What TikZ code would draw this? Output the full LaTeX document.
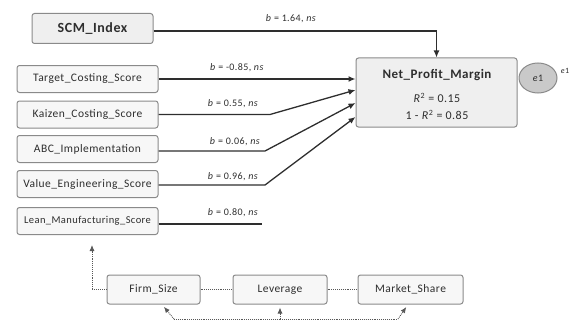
\documentclass[tikz,border=0pt]{standalone}
\usepackage{fontspec}
\setmainfont{Carlito}[LetterSpace=4]
\usetikzlibrary{arrows.meta,shapes.geometric,calc}
\definecolor{boxline}{HTML}{8A8A8A}
\definecolor{boxfill}{HTML}{F7F7F7}
\definecolor{keyfill}{HTML}{EFEFEF}
\definecolor{ink}{HTML}{2E2E2E}
\definecolor{errfill}{HTML}{C9C9C9}
\tikzset{
  varbox/.style={draw=boxline, line width=1pt, fill=boxfill, rounded corners=2.5pt,
    minimum width=141pt, minimum height=27pt, inner sep=0pt, font=\fontsize{11.5}{13}\selectfont, text=ink},
  ctrlbox/.style={varbox, minimum height=29pt},
  path/.style={draw=ink, line width=1.3pt},
  patharrow/.style={path, -{Latex[length=7pt,width=6pt]}},
  dotline/.style={draw=ink!80, line width=0.9pt, densely dotted},
  dotarrow/.style={dotline, -{Latex[length=6pt,width=5pt]}, shorten >=3pt},
  coef/.style={font=\fontsize{10}{12}\selectfont, text=ink, inner sep=1pt}
}
\begin{document}
\begin{tikzpicture}[x=1pt,y=-1pt]
\useasboundingbox (0,0) rectangle (575,321);

% predictors
\node[varbox, fill=keyfill, minimum width=121pt, minimum height=30pt,
      font=\fontsize{14}{16}\selectfont\bfseries] (scm) at (92.5,28.5) {SCM\_Index};
\node[varbox] (tgt) at (87.5,79)  {Target\_Costing\_Score};
\node[varbox] (kai) at (87.5,114.5) {Kaizen\_Costing\_Score};
\node[varbox] (abc) at (87.5,149) {ABC\_Implementation};
\node[varbox] (val) at (87.5,184) {Value\_Engineering\_Score};
\node[varbox, font=\fontsize{10.5}{12}\selectfont] (lean) at (87.5,221) {Lean\_Manufacturing\_Score};

% outcome box with its statistics, and the error term
\node[varbox, fill=keyfill, minimum width=161pt, minimum height=69pt] (npm) at (436.5,92.5) {};
\node[font=\fontsize{13}{15}\selectfont\bfseries, text=ink] (npmtitle) at (437,75) {Net\_Profit\_Margin};
\node[font=\fontsize{12}{14}\selectfont, text=ink] (npmr2) at (437,98) {\textit{R}\textsuperscript{2} = 0.15};
\node[font=\fontsize{12}{14}\selectfont, text=ink] (npmu2) at (437,115) {1 - \textit{R}\textsuperscript{2} = 0.85};
\node[ellipse, draw=boxline, line width=1pt, fill=errfill, minimum width=38pt,
      minimum height=30pt, inner sep=0pt, font=\fontsize{10}{11}\selectfont, text=ink] (e1) at (538,78) {\textit{e}1};
\node[font=\fontsize{8}{9}\selectfont, text=ink, inner sep=0pt] (e1lab) at (565,71) {\textit{e}1};

% control variables
\node[ctrlbox, minimum width=93pt]  (fs)  at (153.5,289.5) {Firm\_Size};
\node[ctrlbox, minimum width=94pt]  (lev) at (280,289.5)  {Leverage};
\node[ctrlbox, minimum width=105pt] (ms)  at (410.5,289.5) {Market\_Share};

% paths into the outcome
\draw[patharrow] (scm.east |- 0,31) -| (npm.north);
\node[coef] (lscm) at (291,19) {\textit{b} = 1.64, \textit{ns}};

\draw[patharrow] (tgt.east) -- (npm.west |- tgt.east);
\node[coef] (ltgt) at (237,68) {\textit{b} = -0.85, \textit{ns}};

\coordinate (kaibend) at (270,114.5);
\draw[patharrow] (kai.east) -- (kaibend) -- ([yshift=2.5pt]npm.west);
\node[coef] (lkai) at (233,104) {\textit{b} = 0.55, \textit{ns}};

\coordinate (abcbend) at (265,151);
\draw[patharrow] (abc.east |- abcbend) -- (abcbend) -- ([yshift=-10.5pt]npm.west);
\node[coef] (labc) at (235,142) {\textit{b} = 0.06, \textit{ns}};

\coordinate (valbend) at (265,185);
\draw[patharrow] (val.east |- valbend) -- (valbend) -- ([yshift=-24.5pt]npm.west);
\node[coef] (lval) at (233,177) {\textit{b} = 0.96, \textit{ns}};

\coordinate (leanend) at (262,224);
\draw[path] (lean.east |- leanend) -- (leanend);
\node[coef] (llean) at (233,213) {\textit{b} = 0.80, \textit{ns}};

% control links
\coordinate (leanin) at (92,245);
\draw[dotline, -{Latex[length=6pt,width=5pt]}] (fs.west) -| (leanin);
\draw[dotline] (fs.east) -- (lev.west);
\draw[dotline] (lev.east) -- (ms.west);

\coordinate (bl) at (174,319);
\coordinate (br) at (398,319);
\draw[dotline] (bl) -- (br);
\draw[dotarrow] (bl) -- (fs.south -| 162,0);
\draw[dotarrow] (lev.south |- bl) -- (lev.south);
\draw[dotarrow] (br) -- (ms.south -| 408,0);
\end{tikzpicture}
\end{document}
